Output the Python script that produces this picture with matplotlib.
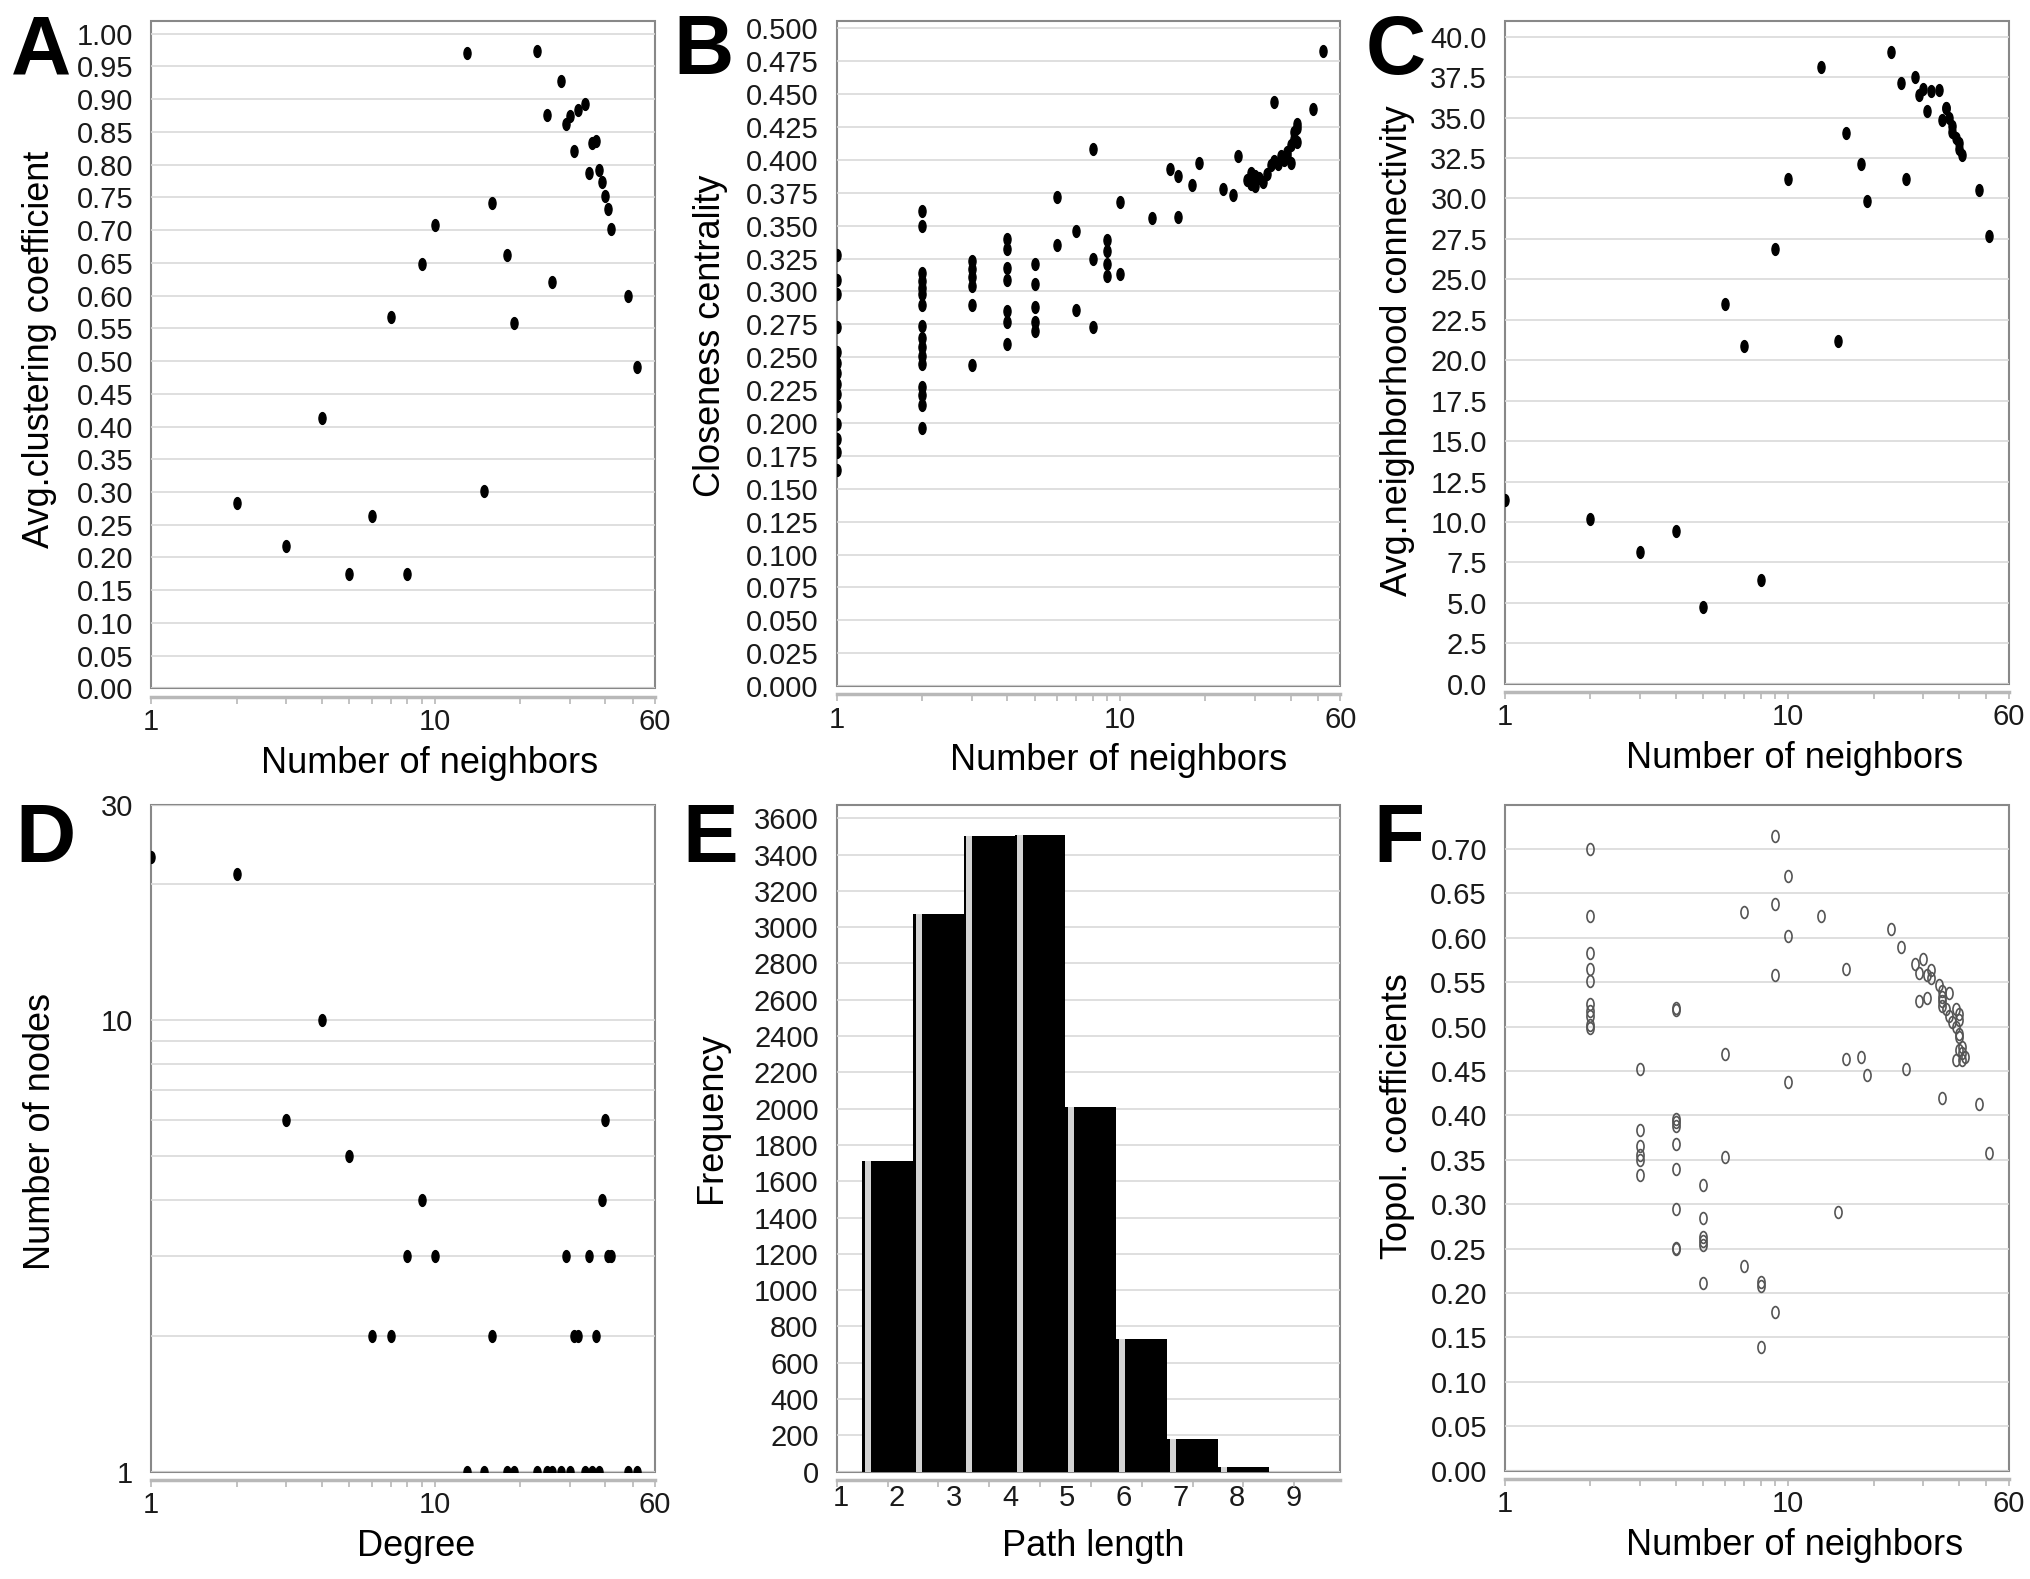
import matplotlib
matplotlib.use('Agg')
import matplotlib.pyplot as plt
import numpy as np
from matplotlib.markers import MarkerStyle
from matplotlib.transforms import Affine2D
from matplotlib.ticker import FixedLocator, NullFormatter

plt.rcParams['font.family'] = ['Liberation Sans', 'DejaVu Sans']

# A: average clustering coefficient vs number of neighbors
a_x = [13, 23, 28, 25, 29, 30, 32, 34, 31, 36, 37, 35, 38, 39, 40, 41, 42,
       16, 10, 9, 18, 26, 48, 7, 19, 52, 4, 15, 2, 6, 3, 5, 8]
a_y = [0.970, 0.974, 0.927, 0.876, 0.862, 0.874, 0.884, 0.892, 0.820, 0.833, 0.836,
       0.787, 0.792, 0.773, 0.752, 0.732, 0.701, 0.741, 0.707, 0.648, 0.662, 0.621,
       0.600, 0.567, 0.558, 0.491, 0.413, 0.302, 0.283, 0.263, 0.218, 0.175, 0.175]

# B: closeness centrality
b_x = [1, 1, 1, 1, 1, 1, 1, 1, 1, 1, 1, 1, 1, 1,
       2, 2, 2, 2, 2, 2, 2, 2, 2, 2, 2, 2, 2, 2, 2, 2,
       3, 3, 3, 3, 3, 3,
       4, 4, 4, 4, 4, 4, 4,
       5, 5, 5, 5, 5,
       6, 6, 7, 7, 8, 8, 8, 9, 9, 9, 9, 10, 10,
       13, 15, 16, 16, 18, 19, 23, 25, 26, 35, 48, 52,
       28, 29, 29, 30, 30, 31, 32, 33, 34, 35, 36, 37, 38, 39, 39, 40, 40, 41, 41, 42, 42, 42]
b_y = [0.328, 0.309, 0.298, 0.273, 0.254, 0.246, 0.238, 0.230, 0.222, 0.213, 0.199, 0.188, 0.178, 0.164,
       0.361, 0.350, 0.314, 0.308, 0.303, 0.298, 0.290, 0.274, 0.265, 0.258, 0.251, 0.245, 0.227, 0.221, 0.214, 0.196,
       0.323, 0.317, 0.311, 0.304, 0.290, 0.244,
       0.340, 0.332, 0.318, 0.309, 0.285, 0.277, 0.260,
       0.321, 0.306, 0.288, 0.277, 0.270,
       0.372, 0.335, 0.346, 0.286, 0.408, 0.325, 0.273, 0.339, 0.331, 0.321, 0.312, 0.368, 0.313,
       0.356, 0.393, 0.388, 0.357, 0.381, 0.398, 0.378, 0.373, 0.403, 0.444, 0.439, 0.483,
       0.385, 0.390, 0.382, 0.388, 0.380, 0.386, 0.383, 0.389, 0.396, 0.399, 0.397, 0.403, 0.400,
       0.403, 0.406, 0.411, 0.398, 0.416, 0.421, 0.414, 0.424, 0.427]

# C: average neighborhood connectivity
c_x = [1, 2, 3, 4, 5, 8, 6, 7, 9, 10, 13, 15, 16, 18, 19, 23, 25, 26, 28, 29, 30, 31, 32, 34,
       35, 36, 36, 37, 38, 38, 39, 40, 40, 41, 47, 51]
c_y = [11.36, 10.19, 8.14, 9.46, 4.73, 6.44, 23.47, 20.88, 26.9, 31.2, 38.1, 21.2, 34.07, 32.1,
       29.87, 39.05, 37.16, 31.23, 37.48, 36.4, 36.75, 35.4, 36.65, 36.7, 34.86, 35.58, 35.58,
       34.95, 34.5, 34.1, 33.75, 33.4, 33.06, 32.7, 30.5, 27.7]

# D: degree distribution
d_x = [1, 2, 4, 3, 5, 9, 8, 10, 6, 7, 16, 29, 35, 41, 42, 39, 40, 31, 32, 37,
       13, 15, 18, 19, 23, 25, 26, 28, 30, 34, 36, 38, 48, 52]
d_y = [23, 21, 10, 6, 5, 4, 3, 3, 2, 2, 2, 3, 3, 3, 3, 4, 6, 2, 2, 2,
       1, 1, 1, 1, 1, 1, 1, 1, 1, 1, 1, 1, 1, 1]

# E: shortest path length distribution
e_len = [1, 2, 3, 4, 5, 6, 7, 8]
e_freq = [1710, 3070, 3505, 3510, 2010, 730, 180, 25]
e_labels = ['1', '2', '3', '4', '5', '6', '7', '8', '9']

# F: topological coefficients
f_x = [2, 2, 2, 2, 2, 2, 2, 2, 2, 2,
       3, 3, 3, 3, 3, 3,
       4, 4, 4, 4, 4, 4, 4, 4, 4, 4,
       5, 5, 5, 5, 5, 5,
       6, 6, 7, 7, 8, 8, 8, 9, 9, 9, 9, 10, 10, 10,
       13, 15, 16, 16, 18, 19, 26, 35, 47, 51,
       23, 25, 28, 30, 29, 31, 32, 32, 29, 31, 34, 35, 37, 35, 35, 35, 36, 37, 39, 40,
       40, 38, 39, 40, 40, 40, 41, 41, 39, 41, 42]
f_y = [0.700, 0.625, 0.583, 0.565, 0.551, 0.525, 0.518, 0.512, 0.502, 0.498,
       0.452, 0.384, 0.366, 0.355, 0.350, 0.333,
       0.521, 0.519, 0.396, 0.392, 0.388, 0.368, 0.339, 0.295, 0.251, 0.250,
       0.321, 0.284, 0.263, 0.258, 0.254, 0.211,
       0.469, 0.353, 0.629, 0.230, 0.212, 0.208, 0.139, 0.714, 0.638, 0.558, 0.179, 0.670, 0.602, 0.438,
       0.625, 0.291, 0.565, 0.463, 0.466, 0.445, 0.452, 0.420, 0.413, 0.357,
       0.610, 0.589, 0.570, 0.576, 0.560, 0.558, 0.564, 0.555, 0.529, 0.532, 0.547, 0.540, 0.538,
       0.529, 0.533, 0.523, 0.520, 0.512, 0.520, 0.514, 0.507, 0.505, 0.499, 0.492, 0.488, 0.473,
       0.477, 0.470, 0.462, 0.462, 0.466]

dot = MarkerStyle('o', transform=Affine2D().scale(0.6, 1.0))
TICK = 21
LAB = 26
GRID = '#d9d9d9'

fig = plt.figure(figsize=(20.31, 15.79), dpi=100)

lefts = [0.0745, 0.412, 0.741]
W = 0.248
ax_a = fig.add_axes([lefts[0], 0.564, W, 0.423])
ax_b = fig.add_axes([lefts[1], 0.5655, W, 0.4215])
ax_c = fig.add_axes([lefts[2], 0.567, W, 0.420])
ax_d = fig.add_axes([lefts[0], 0.068, W, 0.4225])
ax_e = fig.add_axes([lefts[1], 0.068, W, 0.4225])
ax_f = fig.add_axes([lefts[2], 0.0687, W, 0.4218])


def style(ax, xlab, ylab, xc, ycy, ylx):
    ax.patch.set_edgecolor('#888888')
    ax.patch.set_linewidth(1.5)
    for s in ['top', 'right', 'left']:
        ax.spines[s].set_visible(False)
    ax.spines['bottom'].set_position(('outward', 6))
    ax.spines['bottom'].set_color('#b8b8b8')
    ax.spines['bottom'].set_linewidth(2.5)
    ax.set_axisbelow(True)
    ax.tick_params(axis='y', which='both', length=0, pad=13, labelsize=TICK, labelcolor='#1a1a1a')
    ax.tick_params(axis='x', which='both', length=5, color='#b8b8b8', width=1.2, pad=3,
                   labelsize=TICK, labelcolor='#1a1a1a')
    ax.set_xlabel(xlab, fontsize=LAB, va='top')
    ax.xaxis.set_label_coords(xc, -0.086)
    ax.set_ylabel(ylab, fontsize=LAB)
    ax.yaxis.set_label_coords(ylx, ycy)


def log_x(ax):
    ax.set_xscale('log')
    ax.set_xlim(1, 60)
    ax.set_xticks([1, 10, 60])
    ax.set_xticklabels(['1', '10', '60'])
    ax.xaxis.set_minor_locator(FixedLocator([2, 3, 4, 5, 6, 7, 8, 9, 20, 30, 40, 50]))
    ax.xaxis.set_minor_formatter(NullFormatter())


# A
log_x(ax_a)
ax_a.set_ylim(0, 1.02)
ax_a.set_yticks(np.arange(0, 1.001, 0.05))
ax_a.set_yticklabels([f'{v:.2f}' for v in np.arange(0, 1.001, 0.05)])
ax_a.yaxis.grid(True, color=GRID, lw=1.2)
ax_a.plot(a_x, a_y, ls='none', marker=dot, ms=8.5, color='black')
style(ax_a, 'Number of neighbors', 'Avg.clustering coefficient', 0.553, 0.508, -0.187)

# B
log_x(ax_b)
ax_b.set_ylim(0, 0.506)
ax_b.set_yticks(np.arange(0, 0.5001, 0.025))
ax_b.set_yticklabels([f'{v:.3f}' for v in np.arange(0, 0.5001, 0.025)])
ax_b.yaxis.grid(True, color=GRID, lw=1.2)
ax_b.plot(b_x, b_y, ls='none', marker=dot, ms=8.5, color='black')
style(ax_b, 'Number of neighbors', 'Closeness centrality', 0.559, 0.527, -0.216)

# C
log_x(ax_c)
ax_c.set_ylim(0, 41.0)
ax_c.set_yticks(np.arange(0, 40.01, 2.5))
ax_c.set_yticklabels([f'{v:.1f}' for v in np.arange(0, 40.01, 2.5)])
ax_c.yaxis.grid(True, color=GRID, lw=1.2)
ax_c.plot(c_x, c_y, ls='none', marker=dot, ms=8.5, color='black')
style(ax_c, 'Number of neighbors', 'Avg.neighborhood connectivity', 0.574, 0.503, -0.179)

# D
log_x(ax_d)
ax_d.set_yscale('log')
ax_d.set_ylim(1, 30)
ax_d.set_yticks([1, 10, 30])
ax_d.set_yticklabels(['1', '10', '30'])
ax_d.yaxis.set_minor_locator(FixedLocator([2, 3, 4, 5, 6, 7, 8, 9, 20]))
ax_d.yaxis.set_minor_formatter(NullFormatter())
ax_d.yaxis.grid(True, which='both', color=GRID, lw=1.2)
ax_d.plot(d_x, d_y, ls='none', marker=dot, ms=8.5, color='black')
style(ax_d, 'Degree', 'Number of nodes', 0.525, 0.51, -0.186)

# E: black bars with a thin light stripe near the left edge
e_x = np.array(e_len)
ax_e.bar(e_x, e_freq, width=1.0, color='black', linewidth=0, zorder=2)
ax_e.bar(e_x - 0.39, e_freq, width=0.12, color='#d4d4d4', linewidth=0, zorder=3)
ax_e.set_xlim(0, 9.91)
ax_e.set_ylim(0, 3676)
ax_e.set_yticks(np.arange(0, 3601, 200))
ax_e.yaxis.grid(True, color=GRID, lw=1.2)
ax_e.set_xticks(np.linspace(0.07, 8.99, len(e_labels)))
ax_e.set_xticklabels(e_labels)
ax_e.xaxis.set_minor_locator(FixedLocator(np.arange(0, 10)))
style(ax_e, 'Path length', 'Frequency', 0.509, 0.531, -0.214)
ax_e.tick_params(axis='x', which='major', length=0)

# F
log_x(ax_f)
ax_f.set_ylim(0, 0.75)
ax_f.set_yticks(np.arange(0, 0.701, 0.05))
ax_f.set_yticklabels([f'{v:.2f}' for v in np.arange(0, 0.701, 0.05)])
ax_f.yaxis.grid(True, color=GRID, lw=1.2)
ax_f.plot(f_x, f_y, ls='none', marker=dot, ms=8.5, mfc='none', mec='#555555', mew=1.2)
style(ax_f, 'Number of neighbors', 'Topol. coefficients', 0.574, 0.532, -0.179)

# panel letters
for lx, ly, t in [(0.0054, 0.953, 'A'), (0.3315, 0.953, 'B'), (0.6726, 0.953, 'C'),
                  (0.0077, 0.4544, 'D'), (0.3358, 0.4544, 'E'), (0.676, 0.4544, 'F')]:
    fig.text(lx, ly, t, fontsize=60, fontweight='bold', ha='left', va='baseline')

fig.savefig('out.png', dpi=100, facecolor='white')
